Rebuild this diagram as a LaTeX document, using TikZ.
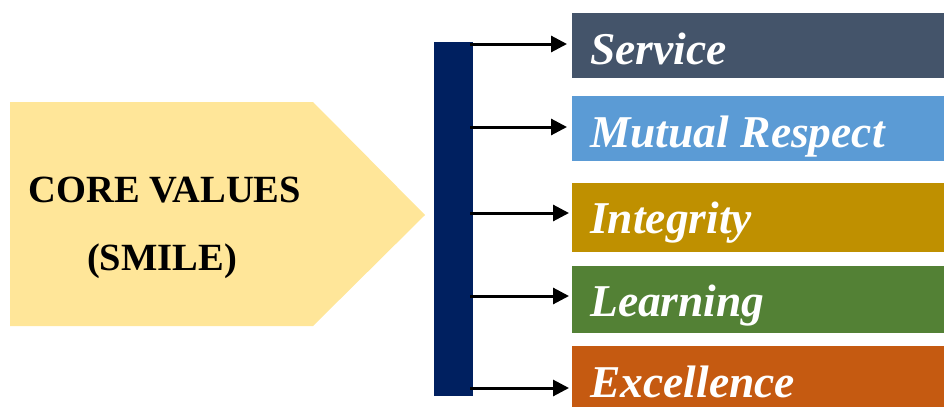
\documentclass[tikz,border=0pt]{standalone}
\usepackage{fontspec}
\setmainfont{Liberation Serif}
\usetikzlibrary{arrows.meta}
\definecolor{cpent}{HTML}{FFE699}
\definecolor{cbar}{HTML}{002060}
\definecolor{csvc}{HTML}{44546A}
\definecolor{cmut}{HTML}{5B9BD5}
\definecolor{cint}{HTML}{BF9000}
\definecolor{clrn}{HTML}{538135}
\definecolor{cexc}{HTML}{C55A11}
\tikzset{
  valbox/.style={rectangle, inner sep=0pt, minimum width=372pt, anchor=north west},
  vallbl/.style={anchor=base west, inner sep=0pt, text=white, font=\fontsize{45.5}{48}\selectfont\bfseries\itshape},
  corelbl/.style={anchor=base, inner sep=0pt, font=\fontsize{38.5}{40}\selectfont\bfseries},
  arr/.style={line width=3pt, -{Triangle[length=16pt,width=16pt]}}
}
\begin{document}
\begin{tikzpicture}[x=1pt,y=-1pt]
\useasboundingbox (0,0) rectangle (944,407);
% pentagon
\fill[cpent] (10,102) -- (313,102) -- (425,215) -- (313,326) -- (10,326) -- cycle;
\node[corelbl] (core1) at (165,202) {CORE VALUES};
\node[corelbl] (core2) at (162,270) {(SMILE)};
% bar
\node[rectangle, fill=cbar, inner sep=0pt, minimum width=39pt, minimum height=354pt, anchor=north west] (bar) at (434,42) {};
% boxes
\node[valbox, fill=csvc, minimum height=65pt] (svc) at (572,13) {};
\node[valbox, fill=cmut, minimum height=65pt] (mut) at (572,96) {};
\node[valbox, fill=cint, minimum height=69pt] (int) at (572,183) {};
\node[valbox, fill=clrn, minimum height=67pt] (lrn) at (572,266) {};
\node[valbox, fill=cexc, minimum height=61pt] (exc) at (572,346) {};
% labels
\node[vallbl] (tsvc) at (590,64) {Service};
\node[vallbl] (tmut) at (590,147) {Mutual Respect};
\node[vallbl] (tint) at (590,233) {Integrity};
\node[vallbl] (tlrn) at (590,316) {Learning};
\node[vallbl] (texc) at (590,397) {Excellence};
% arrows
\draw[arr] ([xshift=-3pt]bar.east |- 0,44) -- ([xshift=-5pt]svc.west |- 0,44);
\draw[arr] ([xshift=-3pt]bar.east |- 0,127) -- ([xshift=-5pt]mut.west |- 0,127);
\draw[arr] ([xshift=-3pt]bar.east |- 0,213) -- ([xshift=-3pt]int.west |- 0,213);
\draw[arr] ([xshift=-3pt]bar.east |- 0,296) -- ([xshift=-3pt]lrn.west |- 0,296);
\draw[arr] ([xshift=-3pt]bar.east |- 0,388) -- ([xshift=-3pt]exc.west |- 0,388);
\end{tikzpicture}
\end{document}
